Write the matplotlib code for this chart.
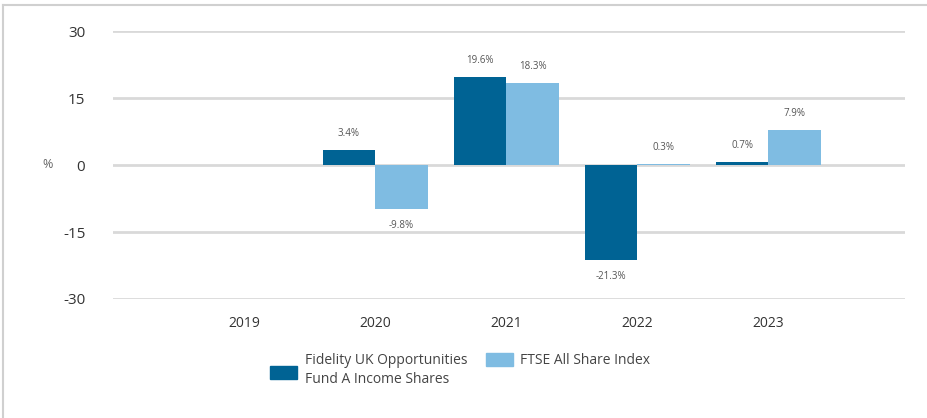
import matplotlib
matplotlib.use("Agg")
import matplotlib.pyplot as plt
from matplotlib.patches import Rectangle
from matplotlib.lines import Line2D
import numpy as np

years = ["2019", "2020", "2021", "2022", "2023"]
fund = [np.nan, 3.4, 19.6, -21.3, 0.7]
index = [np.nan, -9.8, 18.3, 0.3, 7.9]
fund_name = "Fidelity UK Opportunities\nFund A Income Shares"
index_name = "FTSE All Share Index"

dark = "#006394"
light = "#7fbce2"

plt.rcParams["font.family"] = ["Open Sans", "DejaVu Sans"]
plt.rcParams["axes.unicode_minus"] = False

fig = plt.figure(figsize=(9.28, 4.18), dpi=100)
ax = fig.add_axes([0.1218, 0.2847, 0.8532, 0.6411])

x = np.arange(len(years))
w = 0.4
b1 = ax.bar(x - w / 2, fund, w, color=dark, zorder=3)
b2 = ax.bar(x + w / 2, index, w, color=light, zorder=3)

for bars, vals in ((b1, fund), (b2, index)):
    for rect, v in zip(bars, vals):
        if np.isnan(v):
            continue
        off = 8 if v >= 0 else -8
        ax.annotate(f"{v}%", (rect.get_x() + rect.get_width() / 2, v),
                    xytext=(0, off), textcoords="offset points",
                    ha="center", va="bottom" if v >= 0 else "top",
                    fontsize=7, color="#555555")

ax.set_xlim(-1, 5.04)
ax.set_ylim(-30, 30)
ax.set_yticks([30, 15, 0, -15, -30])
ax.set_xticks(x)
ax.set_xticklabels(years)
ax.yaxis.grid(True, color="#d9d9d9", linewidth=2, zorder=0)
ax.tick_params(axis="y", length=0, pad=20, labelsize=11, labelcolor="#333333")
ax.tick_params(axis="x", length=0, pad=12, labelsize=10, labelcolor="#333333")
for s in ax.spines.values():
    s.set_visible(False)

fig.text(48 / 928, 1 - 165 / 418, "%", fontsize=9, color="#666666",
         ha="center", va="center")

# legend drawn by hand to keep the reference layout
fig.patches.append(Rectangle((270 / 928, 1 - 379 / 418), 27 / 928, 13 / 418,
                             transform=fig.transFigure, color=dark))
fig.text(305 / 928, 1 - 353 / 418, fund_name, fontsize=10, color="#444444",
         va="top", ha="left", linespacing=1.4)
fig.patches.append(Rectangle((486 / 928, 1 - 366 / 418), 27 / 928, 13 / 418,
                             transform=fig.transFigure, color=light))
fig.text(520 / 928, 1 - 353 / 418, index_name, fontsize=10, color="#444444",
         va="top", ha="left")

# light frame at top and left
fig.lines.append(Line2D([3 / 928, 1], [1 - 5 / 418, 1 - 5 / 418],
                        transform=fig.transFigure, color="#d0d0d0", lw=1.5))
fig.lines.append(Line2D([3 / 928, 3 / 928], [0, 1 - 5 / 418],
                        transform=fig.transFigure, color="#d0d0d0", lw=1.5))

fig.savefig("out.png", dpi=100)
